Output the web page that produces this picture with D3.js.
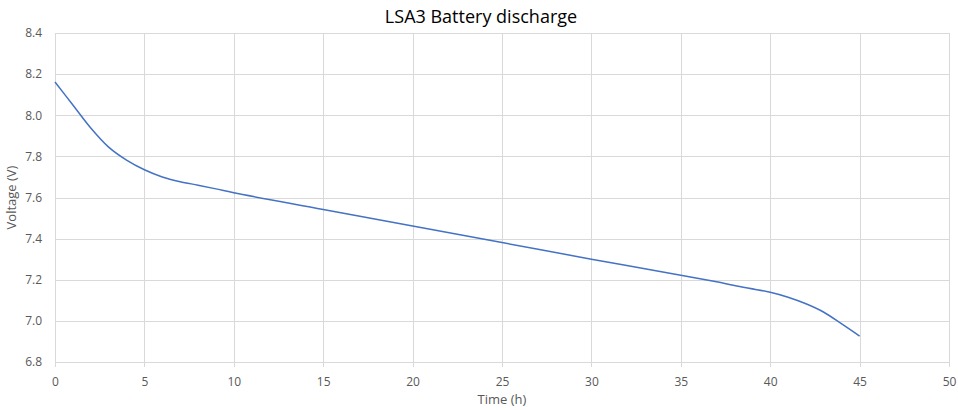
<!DOCTYPE html>
<html>
<head>
<meta charset="utf-8">
<script src="https://cdn.jsdelivr.net/npm/d3@7"></script>
<style>
  body { margin: 0; background: #fff; }
  text { font-family: "Open Sans", "Noto Sans", sans-serif; fill: #595959; }
</style>
</head>
<body>
<svg id="chart" width="958" height="410"></svg>
<script>
let hours   = [0, 1, 2, 3, 4, 5, 6, 7, 8, 9, 10, 15, 20, 25, 30, 35, 37, 38, 40, 41, 42, 43, 44, 45]
let voltage = [8.162, 8.05, 7.938, 7.845, 7.782, 7.735, 7.70, 7.677, 7.66, 7.642, 7.623, 7.542, 7.461, 7.381, 7.30, 7.222, 7.19, 7.172, 7.139, 7.115, 7.083, 7.042, 6.985, 6.926]
let xTicks = [0, 5, 10, 15, 20, 25, 30, 35, 40, 45, 50]
let yTicks = [6.8, 7.0, 7.2, 7.4, 7.6, 7.8, 8.0, 8.2, 8.4]

let svg = d3.select("#chart")
let width = 958, height = 410
let margin = {top: 33, right: 9, bottom: 48, left: 55}

let x = d3.scaleLinear().domain([0, 50]).range([margin.left, width - margin.right])
let y = d3.scaleLinear().domain([6.8, 8.4]).range([height - margin.bottom, margin.top])

// gridlines
svg.append("g")
    .selectAll("line.h")
    .data(yTicks)
    .join("line")
    .attr("x1", x(0)).attr("x2", x(50))
    .attr("y1", d => Math.round(y(d)) + 0.5).attr("y2", d => Math.round(y(d)) + 0.5)
    .style("stroke", "#d9d9d9")

svg.append("g")
    .selectAll("line.v")
    .data(xTicks)
    .join("line")
    .attr("y1", y(8.4)).attr("y2", y(6.8) + 5)
    .attr("x1", d => Math.round(x(d)) + 0.5).attr("x2", d => Math.round(x(d)) + 0.5)
    .style("stroke", "#d9d9d9")

// tick labels
let xAxis = svg.append("g")
    .attr("transform", "translate(0," + (y(6.8) + 24) + ")")
    .call(d3.axisBottom(x).tickValues(xTicks).tickSize(0).tickPadding(0))
xAxis.select(".domain").remove()
xAxis.selectAll("text").style("font-size", "12px").style("fill", "#595959").attr("dy", "0")

let yAxis = svg.append("g")
    .attr("transform", "translate(" + (margin.left - 13) + ",0)")
    .call(d3.axisLeft(y).tickValues(yTicks).tickFormat(d3.format(".1f")).tickSize(0).tickPadding(0))
yAxis.select(".domain").remove()
yAxis.selectAll("text").style("font-size", "12px").style("fill", "#595959")

// line
let line = d3.line()
    .x((d, i) => x(hours[i]))
    .y(d => y(d))
    .curve(d3.curveCatmullRom)

svg.append("path")
    .datum(voltage)
    .attr("d", line)
    .style("fill", "none")
    .style("stroke", "#4472c4")
    .style("stroke-width", 1.5)

// titles
svg.append("text")
    .attr("x", width / 2 + 2).attr("y", 23)
    .attr("text-anchor", "middle")
    .style("font-size", "18px")
    .style("fill", "#000")
    .text("LSA3 Battery discharge")

svg.append("text")
    .attr("x", (x(0) + x(50)) / 2).attr("y", 404)
    .attr("text-anchor", "middle")
    .style("font-size", "13px")
    .text("Time (h)")

svg.append("text")
    .attr("transform", "translate(16," + ((y(6.8) + y(8.4)) / 2) + ") rotate(-90)")
    .attr("text-anchor", "middle")
    .style("font-size", "13px")
    .text("Voltage (V)")
</script>
</body>
</html>
